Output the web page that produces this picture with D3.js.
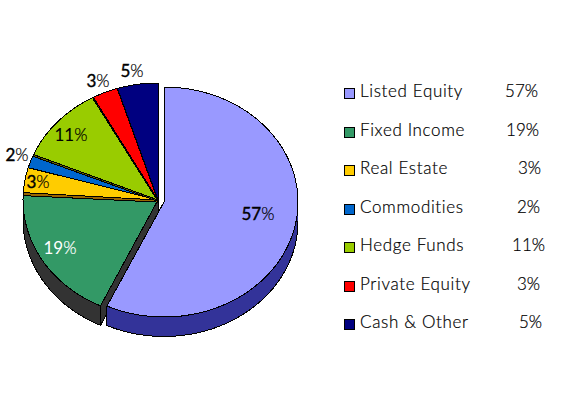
<!DOCTYPE html>
<html><head><meta charset="utf-8">
<script src="https://cdn.jsdelivr.net/npm/d3@7"></script>
<style>html,body{margin:0;background:#fff}svg{display:block}
text{font-family:"Lato","Noto Sans",sans-serif;font-weight:300;paint-order:stroke}
</style></head><body><div id="c"></div>
<script>
const categories=["Listed Equity","Fixed Income","Real Estate","Commodities","Hedge Funds","Private Equity","Cash & Other"];
const shares=[57,19,3.45,1.9,10.7,3.1,4.85];
const labels=["57%","19%","3%","2%","11%","3%","5%"];
const colors=["#9999ff","#339966","#ffcc00","#0066cc","#99cc00","#ff0000","#000080"];
const wallColors=["#333399","#333333","#996600","#003366","#666600","#800000","#000040"];
const labelColors=["#000","#fff","#000","#000","#000","#000","#000"];
const labelPos=[[258,220],[60,254],[38,188],[17,161],[71,141],[98,87],[132,77]];
const labelDigitStroke=[0.4,0,0.4,0.4,0,0.4,0.4];
const legendPctRight=[538,539,541,540,545,540,542];
const edgeStrip=[0,0,3,0,2,2,1];
const W=576,H=394,depth=19.5;
const svg=d3.select("#c").append("svg").attr("width",W).attr("height",H);
const pie=d3.pie().sort(null).value(d=>d)(shares);
const main={cx:158,cy:200,rx:135,ry:117}, ex={cx:164,cy:202,rx:134,ry:115};
const geo=i=>i===0?ex:main;
const pt=(g,a,dy=0)=>[g.cx+g.rx*Math.sin(a),g.cy-g.ry*Math.cos(a)+dy];
const rim=(g,a0,a1,dy=0)=>d3.range(0,61).map(k=>pt(g,a0+(a1-a0)*k/60,dy));
const line=d3.line();
function draw(pts,fill){svg.append("path").attr("d",line(pts)+"Z").attr("fill",fill).attr("stroke","#000").attr("stroke-width",1).attr("stroke-linejoin","round").attr("shape-rendering","crispEdges");}
// walls
const w1=pie[1];
draw([[main.cx,main.cy],[main.cx,main.cy+depth],pt(main,w1.startAngle,depth),pt(main,w1.startAngle)],wallColors[1]);
draw([...rim(main,w1.startAngle,w1.endAngle),...rim(main,w1.startAngle,w1.endAngle,depth).reverse()],wallColors[1]);
const w0=pie[0];
draw([...rim(ex,Math.PI/2,w0.endAngle),...rim(ex,Math.PI/2,w0.endAngle,depth).reverse()],wallColors[0]);
// tops
pie.forEach((s,i)=>{const g=geo(i);
  draw([[g.cx,g.cy],...rim(g,s.startAngle,s.endAngle)],colors[i]);
});
pie.forEach((s,i)=>{const g=geo(i);
  if(edgeStrip[i]>0){const e=pt(g,s.startAngle);
    draw([[g.cx,g.cy],e,[e[0],e[1]+edgeStrip[i]],[g.cx,g.cy+edgeStrip[i]*0.7]],wallColors[i]);}
});
// data labels
labels.forEach((t,i)=>{const n=svg.append("text").attr("x",labelPos[i][0]).attr("y",labelPos[i][1]).attr("font-size",17).attr("fill",labelColors[i]).attr("text-anchor","middle");
  n.append("tspan").attr("font-weight",400).attr("stroke",labelColors[i]).attr("stroke-width",labelDigitStroke[i]).text(t.slice(0,-1));
  n.append("tspan").attr("stroke",labelColors[i]).attr("stroke-width",0.2).text("%");});
// legend
const ly=d3.scalePoint().domain(categories).range([97,328]);
categories.forEach((c,i)=>{const y=ly(c);
  svg.append("rect").attr("x",344.5).attr("y",y-8.5).attr("width",10).attr("height",10).attr("fill",colors[i]).attr("stroke","#000").attr("shape-rendering","crispEdges");
  svg.append("text").attr("x",360).attr("y",y).attr("font-size",17).attr("letter-spacing",0.65).attr("fill","#000").attr("stroke","#000").attr("stroke-width",0.2).text(c);
  svg.append("text").attr("x",legendPctRight[i]).attr("y",y).attr("font-size",17).attr("fill","#000").attr("stroke","#000").attr("stroke-width",0.2).attr("text-anchor","end").text(labels[i]);
});
</script></body></html>
